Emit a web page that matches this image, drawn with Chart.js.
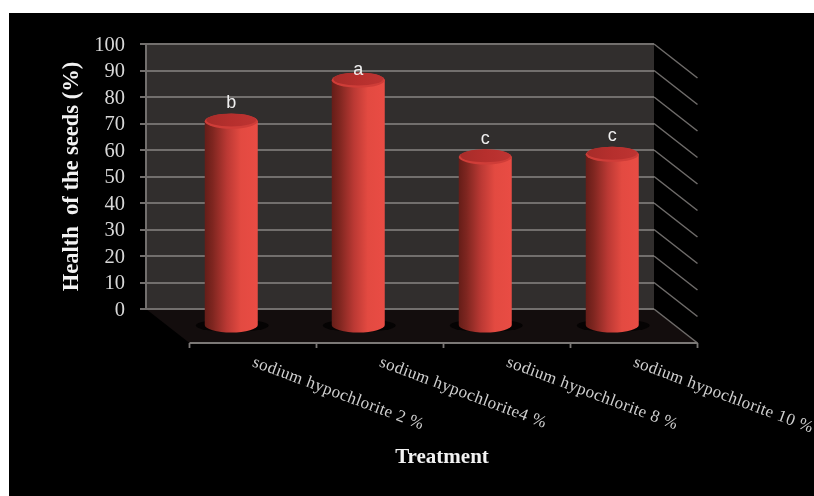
<!DOCTYPE html>
<html>
<head>
<meta charset="utf-8">
<style>
  html, body { margin: 0; padding: 0; background: #fff; overflow: hidden; }
  #frame { position: absolute; left: 9px; top: 13px; width: 805px; height: 483px; background: #000; }
  #wrap { position: absolute; left: 0; top: 0; width: 814px; height: 496px; }
</style>
<script src="https://cdn.jsdelivr.net/npm/chart.js@4/dist/chart.umd.min.js"></script>
</head>
<body>
<div id="frame"></div>
<div id="wrap"><canvas id="chart" width="814" height="496"></canvas></div>
<script>
const categories = ['sodium hypochlorite 2 %', 'sodium hypochlorite4 %', 'sodium hypochlorite 8 %', 'sodium hypochlorite 10 %'];
const healthValues = [77.5, 93, 64, 65];
const letters = ['b', 'a', 'c', 'c'];
const yTicks = [0, 10, 20, 30, 40, 50, 60, 70, 80, 90, 100];
const yTitle = 'Health  of the seeds (%)';
const xTitle = 'Treatment';

// Oblique projection of the floor: how far the front edge sits from the back wall.
const DEPTH_X = 43.5, DEPTH_Y = 34;
const SERIF = '"Liberation Serif", serif';

// Bars are drawn as shaded cylinders standing half way along the floor depth.
Chart.BarElement.prototype.draw = function (ctx) {
  const { x, y, base, width } = this.getProps(['x', 'y', 'base', 'width'], true);
  const cx = x + DEPTH_X / 2, top = y + DEPTH_Y / 2, bottom = base + DEPTH_Y / 2;
  const rx = width / 2, ry = 7.5;
  ctx.save();

  // contact shadow on the floor
  ctx.fillStyle = '#050303';
  ctx.beginPath();
  ctx.ellipse(cx + 1, bottom + 0.5, rx + 10, ry - 1, 0, 0, Math.PI * 2);
  ctx.fill();

  // curved body
  const body = ctx.createLinearGradient(cx - rx, 0, cx + rx, 0);
  body.addColorStop(0, '#651d18');
  body.addColorStop(0.15, '#7f2620');
  body.addColorStop(0.42, '#bb3934');
  body.addColorStop(0.68, '#e34a41');
  body.addColorStop(1, '#e94c44');
  ctx.fillStyle = body;
  ctx.beginPath();
  ctx.moveTo(cx - rx, top);
  ctx.lineTo(cx - rx, bottom);
  ctx.ellipse(cx, bottom, rx, ry, 0, Math.PI, 0, true);
  ctx.lineTo(cx + rx, top);
  ctx.closePath();
  ctx.fill();

  // lit rim and cap
  ctx.fillStyle = '#cf3d38';
  ctx.beginPath();
  ctx.ellipse(cx, top + 0.6, rx, ry, 0, 0, Math.PI * 2);
  ctx.fill();
  const cap = ctx.createLinearGradient(cx - rx, top, cx + rx, top);
  cap.addColorStop(0, '#a62c29');
  cap.addColorStop(0.5, '#b62f2d');
  cap.addColorStop(1, '#be3432');
  ctx.fillStyle = cap;
  ctx.beginPath();
  ctx.ellipse(cx, top - 0.6, rx - 1.5, ry - 1, 0, 0, Math.PI * 2);
  ctx.fill();
  ctx.restore();
};

// Back wall, floor and the receding guide lines behind the bars.
const roomPlugin = {
  id: 'room',
  beforeDraw(chart) {
    const { ctx, chartArea: a, scales } = chart;
    const yFloor = scales.y.getPixelForValue(0);
    ctx.save();
    ctx.fillStyle = '#312e2d';
    ctx.fillRect(a.left, a.top, a.right - a.left, yFloor - a.top);
    ctx.fillStyle = '#130d0d';
    ctx.beginPath();
    ctx.moveTo(a.left, yFloor);
    ctx.lineTo(a.right, yFloor);
    ctx.lineTo(a.right + DEPTH_X, yFloor + DEPTH_Y);
    ctx.lineTo(a.left + DEPTH_X, yFloor + DEPTH_Y);
    ctx.closePath();
    ctx.fill();

    // receding lines on the open right side
    ctx.strokeStyle = '#6f6c6a';
    ctx.lineWidth = 1.5;
    yTicks.forEach(v => {
      const py = scales.y.getPixelForValue(v);
      ctx.beginPath();
      ctx.moveTo(a.right, py);
      ctx.lineTo(a.right + DEPTH_X, py + DEPTH_Y);
      ctx.stroke();
    });

    // front edge of the floor with category separators
    const frontY = yFloor + DEPTH_Y;
    ctx.strokeStyle = '#7b7876';
    ctx.lineWidth = 1.8;
    ctx.beginPath();
    ctx.moveTo(a.left + DEPTH_X, frontY);
    ctx.lineTo(a.right + DEPTH_X, frontY);
    ctx.stroke();
    const step = (a.right - a.left) / categories.length;
    for (let i = 0; i <= categories.length; i++) {
      const px = a.left + DEPTH_X + step * i;
      ctx.beginPath();
      ctx.moveTo(px, frontY);
      ctx.lineTo(px, frontY + 5);
      ctx.stroke();
    }
    ctx.restore();
  },
  afterDraw(chart) {
    const { ctx, chartArea: a, scales } = chart;
    const yFloor = scales.y.getPixelForValue(0);
    const meta = chart.getDatasetMeta(0);
    ctx.save();

    // significance letters above each cylinder, kept inside the wall height
    ctx.fillStyle = '#f0f0f0';
    ctx.font = '18px "Liberation Sans", sans-serif';
    ctx.textAlign = 'center';
    ctx.textBaseline = 'middle';
    meta.data.forEach((bar, i) => {
      const py = Math.max(a.top + 26, bar.y + DEPTH_Y / 2 - 17.5);
      ctx.fillText(letters[i], bar.x + DEPTH_X / 2, py);
    });

    // slanted category names, starting below each bar
    ctx.fillStyle = '#cfcfcf';
    ctx.font = '17px ' + SERIF;
    ctx.letterSpacing = '0.45px';
    ctx.textAlign = 'left';
    ctx.textBaseline = 'alphabetic';
    meta.data.forEach((bar, i) => {
      ctx.save();
      ctx.translate(bar.x + 42, yFloor + 57);
      ctx.rotate(20.5 * Math.PI / 180);
      ctx.fillText(categories[i], 0, 0);
      ctx.restore();
    });
    ctx.letterSpacing = '0px';

    // horizontal axis title, centred under the floor's front edge
    ctx.fillStyle = '#f2f2f2';
    ctx.font = 'bold 21px ' + SERIF;
    ctx.textAlign = 'center';
    ctx.textBaseline = 'middle';
    ctx.fillText(xTitle, 442, 458);
    ctx.restore();
  }
};

new Chart(document.getElementById('chart'), {
  type: 'bar',
  data: {
    labels: categories,
    datasets: [{
      data: healthValues,
      backgroundColor: '#e64a42',
      categoryPercentage: 1,
      barPercentage: 53 / 127,
      clip: false
    }]
  },
  options: {
    responsive: false,
    animation: false,
    layout: { padding: { top: 44, right: 160, left: 0, bottom: 0 } },
    plugins: { legend: { display: false }, tooltip: { enabled: false } },
    scales: {
      x: {
        grid: { display: false },
        border: { display: false },
        ticks: { display: false },
        afterFit(scale) { scale.height = 496 - 309; }
      },
      y: {
        min: 0,
        max: 100,
        afterFit(scale) { scale.width = 146; },
        afterBuildTicks(scale) { scale.ticks = yTicks.map(value => ({ value })); },
        grid: { color: '#726f6d', lineWidth: 2, tickLength: 6, tickColor: '#726f6d', drawTicks: true },
        border: { display: true, color: '#726f6d', width: 2 },
        title: {
          display: true,
          text: yTitle,
          color: '#f2f2f2',
          font: { family: SERIF, size: 22.5, weight: 'bold' },
          padding: { top: 58.5, bottom: 0 }
        },
        ticks: {
          color: '#d8d8d8',
          font: { family: SERIF, size: 20.5 },
          padding: 15,
          autoSkip: false,
          labelOffset: 1.5
        }
      }
    }
  },
  plugins: [roomPlugin]
});
</script>
</body>
</html>
